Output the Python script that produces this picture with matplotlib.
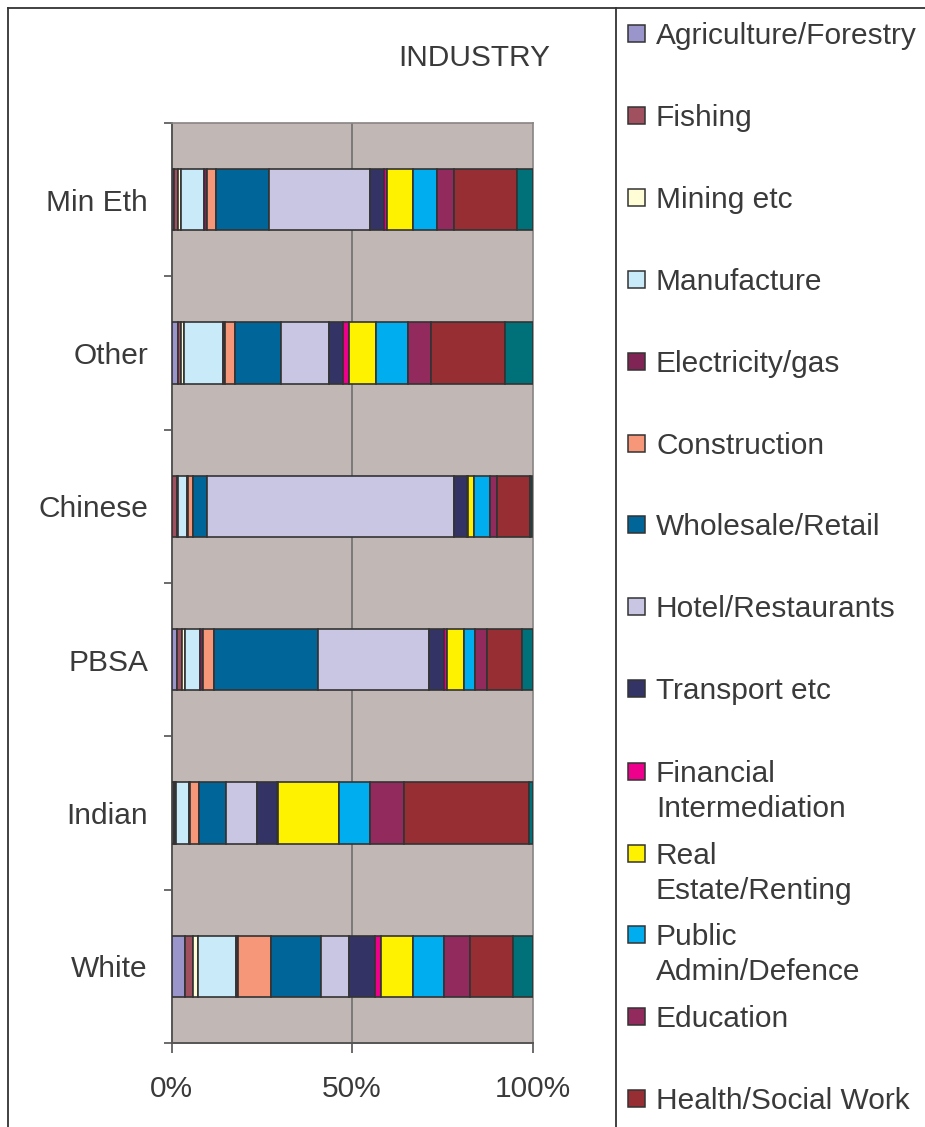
import matplotlib
matplotlib.use("Agg")
import matplotlib.pyplot as plt
from matplotlib.patches import Rectangle
from matplotlib.lines import Line2D
import numpy as np

plt.rcParams['font.family'] = ['Liberation Sans', 'DejaVu Sans']

groups = ["Min Eth", "Other", "Chinese", "PBSA", "Indian", "White"]

industries = ["Agriculture/Forestry", "Fishing", "Mining etc", "Manufacture",
              "Electricity/gas", "Construction", "Wholesale/Retail",
              "Hotel/Restaurants", "Transport etc", "Financial\nIntermediation",
              "Real\nEstate/Renting", "Public\nAdmin/Defence", "Education",
              "Health/Social Work", "Other Services"]

agriculture = [0.8, 1.8, 0.2, 1.4, 0.7, 3.7]
fishing = [0.9, 0.9, 1.3, 1.6, 0.3, 2.2]
mining = [0.8, 0.7, 0.2, 0.7, 0.2, 1.5]
manufacture = [6.5, 11.0, 2.6, 4.3, 3.6, 10.5]
electricity = [0.9, 0.3, 0.3, 0.8, 0.2, 0.4]
construction = [2.3, 3.0, 1.3, 3.0, 2.5, 9.2]
wholesale = [14.8, 12.5, 3.9, 28.7, 7.6, 14.0]
hotel = [27.9, 13.4, 68.5, 30.7, 8.6, 7.8]
transport = [4.0, 4.0, 3.6, 4.2, 5.5, 7.0]
financial = [0.9, 1.6, 0.2, 0.8, 0.2, 1.6]
real_estate = [7.1, 7.5, 1.8, 4.8, 17.0, 9.1]
public_admin = [6.6, 8.7, 4.3, 3.2, 8.7, 8.6]
education = [4.8, 6.5, 2.1, 3.2, 9.2, 7.1]
health = [17.4, 20.6, 9.1, 9.8, 34.6, 12.0]
other_services = [4.3, 7.5, 0.6, 2.8, 1.1, 5.3]

series = [agriculture, fishing, mining, manufacture, electricity, construction,
          wholesale, hotel, transport, financial, real_estate, public_admin,
          education, health, other_services]

colors = ["#9A95CB", "#A0505F", "#FFFDD6", "#C8EAF9", "#7F2454", "#F7977A",
          "#006699", "#C8C6E3", "#333366", "#EC008C", "#FFF200", "#00AEEF",
          "#922A5E", "#962E34", "#007178"]

W, H = 925, 1127
fig = plt.figure(figsize=(W / 100, H / 100), dpi=100)
fig.patch.set_facecolor("white")


def fx(x):
    return x / W


def fy(y):
    return 1 - y / H


TXT = "#3a3a3a"
FS = 21.5

# plot area
left, right, top, bottom = 171.5, 532.5, 123, 1043
ax = fig.add_axes([fx(left), fy(bottom), fx(right - left), (bottom - top) / H])
ax.set_facecolor("#C1B8B5")

ypos = np.arange(len(groups))[::-1]
cum = np.zeros(len(groups))
for vals, col in zip(series, colors):
    v = np.array(vals)
    ax.barh(ypos, v, left=cum, height=0.40, color=col,
            edgecolor="#333333", linewidth=1.2, zorder=3)
    cum += v

ax.set_xlim(0, 100)
ax.set_ylim(-0.5, len(groups) - 0.5)
ax.axvline(50, color="#7a7a7a", linewidth=1.4, zorder=1)

for s in ["top", "right"]:
    ax.spines[s].set_color("#8a8484")
    ax.spines[s].set_linewidth(1.2)
for s in ["left", "bottom"]:
    ax.spines[s].set_color("#555555")
    ax.spines[s].set_linewidth(1.4)

ax.set_xticks([0, 50, 100])
ax.set_xticklabels(["0%", "50%", "100%"])
ax.tick_params(axis="x", direction="out", length=7, width=1.1, color="#444444",
               labelsize=FS, labelcolor=TXT, pad=16)

ax.set_yticks(np.arange(-0.5, len(groups), 1.0))
ax.set_yticklabels([])
ax.tick_params(axis="y", direction="out", length=6, width=1.1, color="#444444")
ax.set_yticks(ypos, minor=True)
ax.set_yticklabels(groups, minor=True)
ax.tick_params(axis="y", which="minor", length=0, labelsize=FS,
               labelcolor=TXT, pad=17)

# title
fig.text(fx(474), fy(66), "INDUSTRY", fontsize=FS, color=TXT,
         ha="center", va="baseline")

# outer frames
frame_kw = dict(color="#333333", linewidth=1.3, transform=fig.transFigure)
fig.add_artist(Line2D([fx(8), 1], [fy(8), fy(8)], **frame_kw))
fig.add_artist(Line2D([fx(8), fx(8)], [fy(8), 0], **frame_kw))
fig.add_artist(Line2D([fx(616), fx(616)], [fy(8), 0], **frame_kw))

# legend
legend_y = [33, 115, 197, 279, 361, 443, 524, 606, 688, 771, 853, 934, 1016, 1098]
for name, col, yc in zip(industries, colors, legend_y):
    fig.add_artist(Rectangle((fx(627.5), fy(yc + 8.5)), 17 / W, 17 / H,
                             facecolor=col, edgecolor="#333333",
                             linewidth=1.1, transform=fig.transFigure))
    for i, line in enumerate(name.split("\n")):
        fig.text(fx(656), fy(yc + 11 + i * 35), line, fontsize=FS,
                 color=TXT, ha="left", va="baseline")

fig.savefig("out.png", dpi=100)
